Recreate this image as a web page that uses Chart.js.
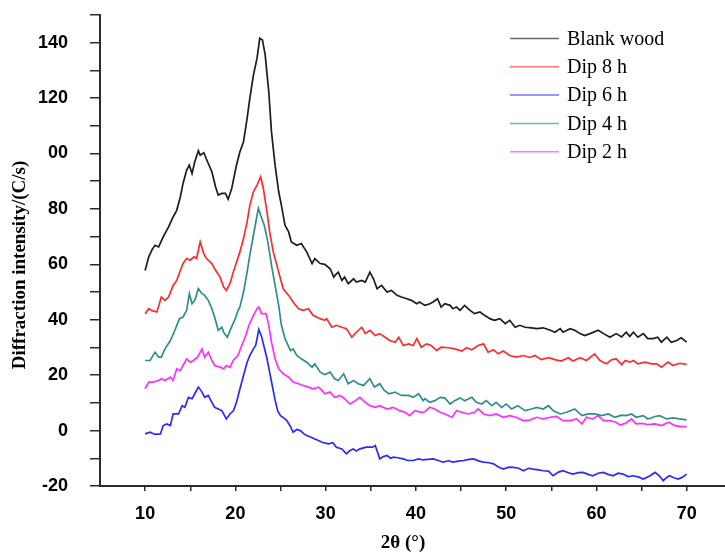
<!DOCTYPE html>
<html>
<head>
<meta charset="utf-8">
<script src="https://cdn.jsdelivr.net/npm/chart.js@4.4.1/dist/chart.umd.min.js"></script>
<style>
  html, body { margin: 0; padding: 0; background: #ffffff; }
  canvas { display: block; }
</style>
</head>
<body>
<canvas id="xrd" width="725" height="552"></canvas>
<script>
// XRD patterns: [2θ (°), intensity (C/s)]
const blankWood = [[10,57.8],[10.4,62.7],[10.8,65.5],[11.1,66.9],[11.5,66.3],[12.0,69.9],[12.6,73.5],[13.1,77.1],[13.5,79.5],[13.9,84.3],[14.2,89.2],[14.6,94],[14.9,95.8],[15.2,92.8],[15.5,97],[15.9,101],[16.1,99.4],[16.5,100.3],[17.0,96.4],[17.4,93.4],[17.8,88],[18.1,85],[18.5,85.6],[18.9,85.6],[19.2,83.5],[19.6,87.5],[20.1,95.5],[20.5,100.6],[20.9,104.2],[21.3,112.7],[21.6,119.9],[22.0,128.3],[22.4,134.4],[22.7,141.6],[23.0,141],[23.3,135.6],[23.7,122.3],[24.0,107.8],[24.4,95.8],[24.8,86.2],[25.1,81.3],[25.5,74.1],[25.9,71.7],[26.2,68.1],[26.8,66.9],[27.3,67.5],[27.9,64.5],[28.5,60.3],[28.8,62.1],[29.4,60.3],[29.9,60],[30.5,58.4],[30.9,55.4],[31.2,56.6],[31.4,57.2],[31.8,54.2],[32.1,55.4],[32.5,53],[33.1,54.8],[33.4,53.6],[34.0,54.2],[34.4,53.6],[34.9,57.2],[35.3,54.8],[35.7,51.2],[36.2,52.4],[36.8,50],[37.3,50.6],[37.9,48.8],[38.4,48.2],[39.0,47.6],[39.5,47],[40.1,45.8],[40.4,46.4],[41.0,45.2],[41.55,45.8],[41.9,46.4],[42.4,47.6],[42.8,44.6],[43.2,45.8],[43.8,45.2],[44.1,44],[44.5,44.6],[44.9,43.4],[45.4,45.2],[46.0,43.4],[46.5,42.2],[47.1,42.8],[47.6,41.6],[48.2,40.4],[48.7,39.8],[49.3,40.4],[49.9,38.6],[50.4,39.8],[51.0,37.3],[51.5,38],[52.1,37.3],[52.8,37.1],[53.4,36.8],[54.1,37.1],[54.9,36.2],[55.4,35.5],[56.0,36.8],[56.3,35.5],[57.1,36.8],[57.6,36.2],[58.2,35],[58.7,34.3],[59.3,35],[60.2,36.2],[60.8,35],[61.5,33.7],[62.2,35],[62.8,33.8],[63.3,35.5],[63.7,34],[64.1,35.5],[64.6,33.7],[65.2,35],[65.7,33.2],[66.3,33.2],[66.8,33.7],[67.2,31.9],[67.8,33.7],[68.3,31.9],[68.9,32.5],[69.4,33.5],[70.0,31.9]];

const dip8h = [[10,42.2],[10.4,44],[10.7,43.4],[11.3,42.8],[11.8,48.2],[12.2,47],[12.6,48.2],[13.1,52.4],[13.5,54.2],[13.9,57.8],[14.2,60.3],[14.6,62.1],[15.0,61.5],[15.4,62.7],[15.7,62.1],[16.1,68.1],[16.5,63.9],[16.8,62.1],[17.4,60.3],[17.7,58.4],[18.3,55.4],[18.7,51.8],[19.0,50.6],[19.4,53],[19.8,57.5],[20.1,60.5],[20.5,64.5],[20.9,69.3],[21.3,75.3],[21.6,81.3],[22.0,86.2],[22.4,88.6],[22.8,91.6],[23.1,87.4],[23.5,78.9],[23.8,71.7],[24.2,64.5],[24.8,57.2],[25.3,51.2],[25.9,48.8],[26.4,46.4],[27.0,44],[27.5,43.4],[28.1,44],[28.6,41.6],[29.4,40.4],[29.9,39.8],[30.1,40.4],[30.7,37.3],[31.2,38],[31.8,37.3],[32.3,36.8],[32.9,33.7],[33.4,35.5],[34.0,37.3],[34.4,35],[34.9,36.2],[35.5,34.3],[36.0,35],[36.6,33.7],[37.1,32.5],[37.7,31.9],[38.1,33.7],[38.6,30.7],[39.2,31.3],[39.7,30.7],[40.1,33.2],[40.6,30.1],[41.2,31.3],[41.7,30.7],[42.3,28.9],[42.8,30.1],[43.6,29.9],[44.3,29.5],[45.1,28.7],[45.6,29.9],[46.2,29.2],[46.9,30.7],[47.5,31.3],[48.0,28.3],[48.6,29.2],[49.1,27.7],[49.7,28.7],[50.4,27.1],[51.1,26.5],[51.9,27.1],[52.6,26.4],[53.2,27.1],[53.9,25.6],[54.7,26.3],[55.4,25.6],[56.1,25.1],[56.9,26.3],[57.4,25.1],[58.2,26.3],[58.9,25.3],[59.8,27.7],[60.4,25.3],[61.1,24.1],[61.7,25.6],[62.2,25.9],[62.8,23.8],[63.2,25.3],[63.7,24.7],[64.1,25.3],[64.6,24.1],[65.4,24.7],[66.1,24.1],[66.7,24.1],[67.2,22.9],[67.95,24.7],[68.5,23.5],[69.2,24.3],[70.0,23.9]];

const dip6h = [[10,-1.2],[10.55,-0.6],[11.1,-1.4],[11.7,-1.2],[12.0,1.8],[12.4,2.4],[12.8,1.8],[13.1,6],[13.7,6],[14.1,9],[14.4,8.4],[14.8,12],[15.2,11.5],[15.5,13.3],[15.9,15.7],[16.3,13.9],[16.6,12],[17.0,12.7],[17.4,10.2],[17.7,8.4],[18.1,7.8],[18.5,7.2],[19.0,4.2],[19.4,6],[19.8,7.2],[20.15,10.5],[20.5,15],[20.9,19.9],[21.3,24.7],[21.6,27.1],[22.0,29.5],[22.25,30.7],[22.6,36.5],[22.9,34],[23.2,30],[23.5,26],[23.8,21],[24.1,16],[24.4,11],[24.7,7],[25.0,5.4],[25.4,4.5],[25.7,3.6],[26.1,1.5],[26.4,-0.6],[26.8,0.4],[27.2,0],[27.6,-1.2],[27.9,-1.8],[28.4,-2.4],[28.8,-3],[29.2,-3.6],[29.6,-4.2],[30.3,-4.8],[30.8,-4.4],[31.2,-6],[31.8,-6.6],[32.3,-8.4],[32.7,-7.2],[33.07,-6.6],[33.4,-7.4],[33.8,-6.6],[34.5,-6],[35.2,-6],[35.5,-5.4],[36.0,-10.2],[36.4,-9.4],[36.8,-9],[37.2,-10],[37.5,-9.6],[38.0,-9.8],[38.6,-10.2],[39.1,-10.8],[39.7,-10.8],[40.3,-10.2],[40.8,-10.6],[41.3,-10.4],[41.9,-10.2],[42.5,-10.8],[43.0,-11.4],[43.6,-10.9],[44.1,-11.4],[44.7,-11],[45.3,-10.8],[45.9,-10.4],[46.4,-10.2],[47.0,-11],[47.5,-11.4],[48.1,-11.6],[48.6,-12],[49.2,-13.2],[49.7,-13.9],[50.3,-13.2],[50.8,-13.3],[51.4,-13.6],[51.9,-14.5],[52.5,-13.6],[53.0,-13.9],[53.6,-14.2],[54.1,-14.5],[54.7,-14.6],[55.2,-16.3],[55.8,-15],[56.3,-14.5],[56.9,-15.2],[57.4,-15.7],[58.0,-15.2],[58.5,-15.1],[59.1,-15.8],[59.6,-16.3],[60.2,-15.4],[60.75,-15.1],[61.3,-15.8],[61.85,-16.3],[62.4,-15.4],[62.96,-15.7],[63.5,-16.6],[64.1,-16.3],[64.7,-16.8],[65.2,-17.5],[65.9,-16.4],[66.5,-15.1],[67.0,-16.4],[67.4,-18.1],[67.8,-16.9],[68.1,-16.3],[68.6,-17],[69.05,-17.5],[69.5,-16.9],[70.0,-15.7]];

const dip4h = [[10,25.3],[10.55,25.3],[11.1,28.3],[11.5,26.5],[11.8,26.5],[12.2,29.5],[12.8,32.5],[13.3,36.2],[13.8,40.4],[14.2,41],[14.6,43.4],[14.9,49.4],[15.2,45.8],[15.5,47],[15.9,51.2],[16.3,49.4],[16.6,48.8],[17.0,47],[17.4,44],[17.7,41],[18.1,36.2],[18.5,37.3],[18.7,35.5],[19.1,33.7],[19.5,36.8],[20.0,40.5],[20.3,43.4],[20.5,44.6],[20.9,50],[21.3,57.2],[21.6,63.3],[22.0,70.5],[22.4,77.7],[22.55,80.2],[22.8,77.7],[23.2,74.1],[23.6,68.1],[24.0,59.7],[24.4,52.4],[24.8,45.2],[25.1,38],[25.5,33.2],[26.1,28.9],[26.4,29.5],[26.8,27.1],[27.3,25.9],[27.9,24.7],[28.5,22.9],[28.8,24.1],[29.4,21.1],[29.9,20.2],[30.5,21.1],[31.0,18.7],[31.4,18.1],[32.0,20.5],[32.5,16.9],[33.1,18.1],[33.6,16.9],[34.2,16.3],[34.9,18.7],[35.4,15.7],[36.0,16.9],[36.5,14.5],[37.0,13.3],[37.7,13.9],[38.4,12.7],[39.2,12.7],[39.7,12],[40.3,13.3],[40.8,10.8],[41.0,11.5],[41.55,10.2],[42.1,10.8],[42.7,12],[43.2,11.8],[43.8,9.6],[44.3,10.8],[44.9,11.8],[45.4,10.8],[46.2,12],[46.7,10.2],[47.3,9.6],[47.8,10.8],[48.4,9],[48.9,10.2],[49.5,8.4],[50.0,9.6],[50.6,7.8],[51.3,9],[52.1,7.2],[52.8,7.8],[53.4,8.4],[54.1,7.8],[54.7,9],[55.2,7.2],[56.0,6],[56.7,6.6],[57.6,7.8],[58.4,5.4],[59.1,6],[59.8,6],[60.6,5.4],[61.3,6],[62.05,4.8],[62.8,5.6],[63.3,5.4],[63.9,6],[64.4,4.8],[65.2,5.4],[65.7,4.2],[66.5,5.1],[67.0,5.4],[67.8,4.2],[68.5,4.6],[69.2,4.2],[70.0,3.9]];

const dip2h = [[10,15.1],[10.4,17.5],[10.9,17.5],[11.5,18.1],[11.8,18.7],[12.2,18.1],[12.8,19.3],[13.1,18.1],[13.5,22.3],[13.9,21.7],[14.2,23.5],[14.6,25.9],[15.0,24.7],[15.35,25.3],[15.8,26.5],[16.3,29.5],[16.6,26.5],[17.0,28.3],[17.4,25.3],[17.7,23.5],[18.3,22.9],[18.7,22.3],[19.0,23.5],[19.4,22.8],[19.8,25.5],[20.3,27.2],[20.7,30.7],[21.15,34.3],[21.5,38],[22.0,41.6],[22.4,44],[22.6,44.6],[22.9,42.2],[23.4,42.2],[23.7,38],[24.0,31.9],[24.4,25.9],[24.8,22.3],[25.3,20.5],[25.9,19.3],[26.4,17.5],[27.0,16.9],[27.5,16.3],[28.1,15.7],[28.6,15.1],[29.2,15.7],[29.6,14.5],[29.9,13.3],[30.5,13.9],[31.0,12],[31.6,12.7],[32.1,11.5],[32.7,9.6],[33.3,10.8],[33.8,12],[34.4,10.2],[34.9,9],[35.5,8.4],[36.0,9],[36.8,7.8],[37.5,8.4],[38.2,7.2],[38.8,6.6],[39.3,5.4],[39.9,7.2],[40.6,6.6],[41.0,6.8],[41.55,8.4],[42.1,7.8],[42.7,6.6],[43.2,6],[44.0,4.8],[44.5,7.2],[45.1,6.6],[45.8,6],[46.5,6.6],[46.9,7.8],[47.5,6],[48.2,5.4],[48.9,6],[49.7,4.8],[50.4,5.4],[51.1,4.8],[51.9,3.6],[52.6,3.8],[53.4,4.8],[54.1,4.2],[54.9,4.8],[55.6,5.1],[56.3,3.6],[57.1,3.6],[57.8,4.2],[58.4,2.4],[58.9,4.8],[59.6,4.2],[60.2,5.4],[60.8,3.6],[61.5,3.6],[62.2,3],[62.6,2],[63.2,2.6],[63.9,4.2],[64.4,2.4],[65.0,2.6],[65.7,2.2],[66.5,2.4],[67.2,1.8],[68.0,3],[68.7,1.8],[69.4,1.4],[70.0,1.4]];

const seriesLabels = ['Blank wood', 'Dip 8 h', 'Dip 6 h', 'Dip 4 h', 'Dip 2 h'];
const seriesData = [blankWood, dip8h, dip6h, dip4h, dip2h];
const seriesColors = ['#1c1c1c', '#ff2b2b', '#2a2aff', '#2f8f88', '#ff2eff'];

const xTickValues = [10, 15, 20, 25, 30, 35, 40, 45, 50, 55, 60, 65, 70];
const yTickValues = [-20, -10, 0, 10, 20, 30, 40, 50, 60, 70, 80, 90, 100, 110, 120, 130, 140, 150];
const yLabelText = { '-20': '-20', '0': '0', '20': '20', '40': '40', '60': '60', '80': '80', '100': '00', '120': '120', '140': '140' };

const xTitle = '2θ (°)';
const yTitle = 'Diffraction intensity/(C/s)';

const tickFont = { family: '"Liberation Sans", Arial, sans-serif', size: 18, weight: 'bold' };
const axisColor = '#2a2a2a';

// axis titles and the inset legend
const decorations = {
  id: 'decorations',
  afterDraw(chart) {
    const ctx = chart.ctx;
    ctx.save();
    ctx.fillStyle = '#000';
    ctx.font = 'bold 19px "Liberation Serif", "Times New Roman", serif';
    ctx.textAlign = 'center';
    ctx.textBaseline = 'middle';
    ctx.fillText(xTitle, 403, 543);
    ctx.translate(20, 265);
    ctx.rotate(-Math.PI / 2);
    ctx.fillText(yTitle, 0, 0);
    ctx.restore();

    ctx.save();
    ctx.font = '20px "Liberation Serif", "Times New Roman", serif';
    ctx.textAlign = 'left';
    ctx.textBaseline = 'middle';
    chart.data.datasets.forEach((ds, i) => {
      const y = 38.5 + i * 28.3;
      ctx.globalAlpha = 0.65;
      ctx.strokeStyle = ds.borderColor;
      ctx.lineWidth = 1.5;
      ctx.beginPath();
      ctx.moveTo(510, y);
      ctx.lineTo(559, y);
      ctx.stroke();
      ctx.globalAlpha = 1;
      ctx.fillStyle = '#000';
      ctx.fillText(ds.label, 567, y + 1);
    });
    ctx.restore();
  }
};

new Chart(document.getElementById('xrd'), {
  type: 'line',
  data: {
    datasets: seriesLabels.map((label, i) => ({
      label,
      data: seriesData[i].map(([x, y]) => ({ x, y })),
      borderColor: seriesColors[i],
      borderWidth: 1.7,
      pointRadius: 0,
      tension: 0,
      fill: false
    }))
  },
  options: {
    responsive: false,
    animation: false,
    devicePixelRatio: 1,
    layout: { padding: { top: 15, right: 0, left: 0, bottom: 0 } },
    plugins: { legend: { display: false }, tooltip: { enabled: false } },
    scales: {
      x: {
        type: 'linear',
        position: 'bottom',
        min: 5,
        max: 74.25,
        afterBuildTicks: (s) => { s.ticks = xTickValues.map(v => ({ value: v })); },
        afterFit: (s) => { s.height = 66; s.paddingLeft = 0; s.paddingRight = 0; },
        ticks: {
          autoSkip: false,
          maxRotation: 0,
          padding: 12,
          color: '#000',
          font: tickFont,
          callback: (v) => (v % 10 === 0 ? String(v) : '')
        },
        grid: { drawOnChartArea: false, drawTicks: true, tickLength: 5, color: axisColor, lineWidth: 1.5 },
        border: { display: true, color: axisColor, width: 2 }
      },
      y: {
        type: 'linear',
        min: -20,
        max: 150,
        afterBuildTicks: (s) => { s.ticks = yTickValues.map(v => ({ value: v })); },
        afterFit: (s) => { s.width = 100; s.paddingTop = 0; s.paddingBottom = 0; },
        ticks: {
          autoSkip: false,
          padding: 22,
          color: '#000',
          font: tickFont,
          callback: (v) => (yLabelText[String(v)] || '')
        },
        grid: { drawOnChartArea: false, drawTicks: true, tickLength: 10, color: axisColor, lineWidth: 1.5 },
        border: { display: true, color: axisColor, width: 2 }
      }
    }
  },
  plugins: [decorations]
});
</script>
</body>
</html>
